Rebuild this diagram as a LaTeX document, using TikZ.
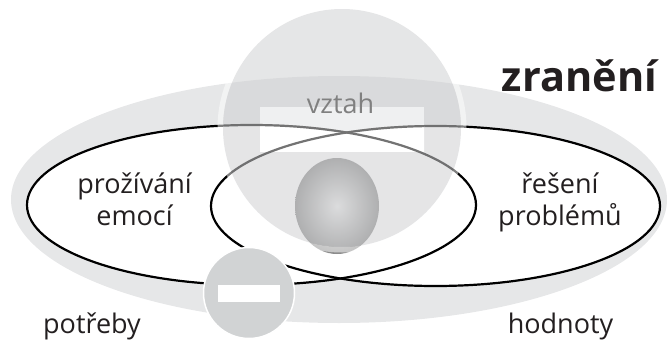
\documentclass[tikz,border=0pt]{standalone}
\usepackage{fontspec}
\setmainfont{Open Sans}
\definecolor{ringgray}{HTML}{E6E7E8}
\definecolor{veil}{RGB}{207,208,210}
\definecolor{minusgray}{HTML}{D1D3D4}
\definecolor{inktext}{HTML}{231F20}
\tikzset{
  loop/.style={draw=black,line width=2.2pt},
  label/.style={anchor=base,text=inktext,font=\fontsize{27}{27}\selectfont},
}
\begin{document}
\begin{tikzpicture}[x=1pt,y=-1pt]
\useasboundingbox (0,0) rectangle (667,340);
% outer ring
\fill[ringgray] (339,199.5) ellipse [x radius=328pt,y radius=123.5pt];
% inner ellipses
\fill[white] (251.5,205) ellipse [x radius=224.5pt,y radius=80pt];
\fill[white] (435.5,206) ellipse [x radius=224.5pt,y radius=80pt];
\draw[loop] (251.5,205) ellipse [x radius=224.5pt,y radius=80pt];
\draw[loop] (435.5,206) ellipse [x radius=224.5pt,y radius=80pt];
% ball
\shade[inner color=black!8,outer color=black!46,shading=radial]
  (337,206) ellipse [x radius=42pt,y radius=48pt];
% halo and veil
\fill[white,opacity=.5,even odd rule] (342,128) circle [radius=124.5pt] (342,128) circle [radius=119pt];
\fill[veil,opacity=.54] (342,128) circle [radius=119pt];
% label bar
\fill[white,opacity=.6] (260,107) rectangle (424,151);
\begin{scope}
  \clip (260,107) rectangle (424,151);
  \fill[white] (251.5,205) ellipse [x radius=224.5pt,y radius=80pt];
  \fill[white] (435.5,206) ellipse [x radius=224.5pt,y radius=80pt];
  \draw[loop,draw=black!55] (251.5,205) ellipse [x radius=224.5pt,y radius=80pt];
  \draw[loop,draw=black!55] (435.5,206) ellipse [x radius=224.5pt,y radius=80pt];
\end{scope}
\node[label,text=black!50] (vztah) at (340.5,113) {vztah};
% minus sign
\fill[minusgray,draw=white,line width=1.5pt] (249,293) circle [radius=45.5pt];
\fill[white] (218,285) rectangle (280,302);
% texts
\node[label] (a1) at (134.5,193) {prožívání};
\node[label] (a2) at (134.5,225) {emocí};
\node[label] (b1) at (560,193) {řešení};
\node[label] (b2) at (560,225) {problémů};
\node[label] (c1) at (92,333) {potřeby};
\node[label] (c2) at (560.5,333) {hodnoty};
\node[label,font=\fontsize{41.5}{41.5}\selectfont\bfseries] (z) at (579.5,91) {zranění};
\end{tikzpicture}
\end{document}
